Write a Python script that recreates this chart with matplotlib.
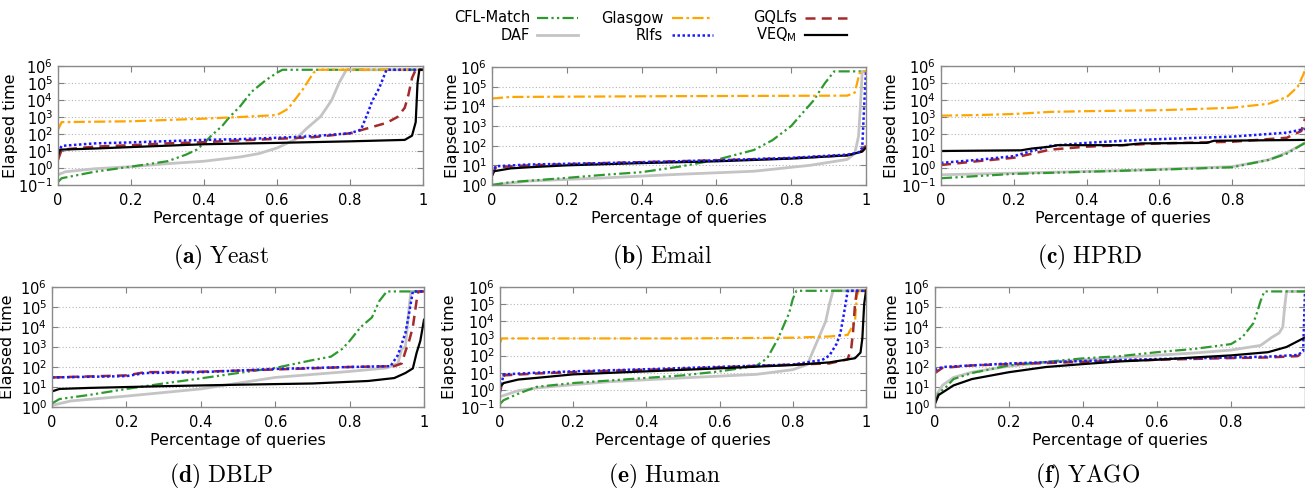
import numpy as np
import matplotlib
matplotlib.use('Agg')
import matplotlib.pyplot as plt
from matplotlib.lines import Line2D
from matplotlib.ticker import NullLocator, LogFormatterSciNotation

plt.rcParams['font.family'] = 'DejaVu Sans'

TIMEOUT = 6e5

# (x = fraction of queries, y = elapsed time)
# --- Yeast
yeast_cfl = [(0, 0.15), (0.01, 0.25), (0.1, 0.6), (0.2, 1.2), (0.3, 2.5), (0.35, 6), (0.38, 12),
             (0.4, 28), (0.42, 80), (0.45, 300), (0.47, 1000), (0.5, 4500), (0.53, 3e4),
             (0.57, 1.5e5), (0.6, 4e5), (0.615, TIMEOUT), (1.0, TIMEOUT)]
yeast_daf = [(0, 0.4), (0.02, 0.6), (0.1, 0.9), (0.2, 1.2), (0.3, 1.8), (0.4, 2.5), (0.5, 4.5),
             (0.55, 7), (0.6, 15), (0.65, 48), (0.68, 200), (0.72, 1100), (0.75, 1e4),
             (0.77, 1e5), (0.79, TIMEOUT), (1.0, TIMEOUT)]
yeast_glasgow = [(0, 180), (0.01, 500), (0.2, 560), (0.4, 800), (0.5, 1000), (0.6, 1300),
                 (0.63, 3000), (0.65, 1.1e4), (0.67, 4e4), (0.7, 4e5), (0.71, TIMEOUT), (1.0, TIMEOUT)]
yeast_rifs = [(0, 8), (0.01, 20), (0.1, 28), (0.2, 32), (0.3, 38), (0.4, 45), (0.5, 50), (0.6, 60),
              (0.7, 75), (0.8, 110), (0.83, 180), (0.85, 2000), (0.86, 8000), (0.88, 5e4),
              (0.9, TIMEOUT), (1.0, TIMEOUT)]
yeast_gqlfs = [(0, 3), (0.01, 12), (0.1, 18), (0.2, 22), (0.3, 28), (0.4, 33), (0.5, 42), (0.6, 52),
               (0.7, 65), (0.8, 110), (0.9, 450), (0.93, 1000), (0.95, 3500), (0.96, 2e4),
               (0.97, 2e5), (0.98, TIMEOUT), (1.0, TIMEOUT)]
yeast_veq = [(0, 5), (0.005, 12), (0.1, 14), (0.2, 17), (0.4, 25), (0.6, 30), (0.8, 37), (0.95, 45),
             (0.97, 80), (0.98, 500), (0.985, 1e5), (0.99, TIMEOUT), (1.0, TIMEOUT)]

# --- Email
email_cfl = [(0, 1.0), (0.05, 1.4), (0.2, 2.3), (0.3, 3.3), (0.4, 4.5), (0.5, 8.5), (0.6, 19),
             (0.7, 60), (0.75, 190), (0.8, 1000), (0.83, 4500), (0.86, 2e4), (0.87, 4e4),
             (0.89, 1.5e5), (0.915, TIMEOUT), (0.99, TIMEOUT)]
email_daf = [(0, 1.0), (0.1, 1.6), (0.3, 2.3), (0.5, 3.5), (0.7, 5), (0.85, 10), (0.95, 20),
             (0.97, 40), (0.98, 300), (0.985, 1e4), (0.99, TIMEOUT), (1.0, TIMEOUT)]
email_glasgow = [(0, 2.5e4), (0.05, 3e4), (0.5, 3.3e4), (0.95, 3.5e4), (0.97, 5e4), (0.98, 3e5),
                 (0.985, TIMEOUT), (1.0, TIMEOUT)]
email_rifs = [(0, 4), (0.01, 9), (0.1, 11), (0.3, 13), (0.6, 18), (0.8, 24), (0.95, 35), (0.98, 45),
              (0.99, 80), (0.995, 1e4), (1.0, TIMEOUT)]
email_gqlfs = [(0, 3), (0.01, 8), (0.1, 10), (0.3, 13), (0.6, 18), (0.8, 23), (0.95, 33), (0.98, 42),
               (0.99, 60), (1.0, 100)]
email_veq = [(0, 3), (0.005, 5), (0.05, 7), (0.1, 8), (0.2, 10), (0.4, 13), (0.6, 16), (0.8, 22),
             (0.95, 32), (0.99, 50), (1.0, 80)]

# --- HPRD
hprd_cfl = [(0, 0.25), (0.2, 0.45), (0.4, 0.6), (0.6, 0.8), (0.8, 1.1), (0.9, 3), (0.95, 7), (1.0, 30)]
hprd_daf = [(0, 0.4), (0.2, 0.5), (0.5, 0.7), (0.8, 1.2), (0.9, 3), (0.95, 8), (1.0, 30)]
hprd_glasgow = [(0, 1200), (0.1, 1300), (0.2, 1500), (0.3, 2000), (0.4, 2200), (0.6, 2500),
                (0.8, 3500), (0.9, 6000), (0.95, 1.5e4), (0.98, 6e4), (0.995, 3e5), (1.0, TIMEOUT)]
hprd_rifs = [(0, 2), (0.1, 3), (0.2, 5), (0.25, 10), (0.3, 20), (0.4, 30), (0.5, 40), (0.6, 50),
             (0.8, 70), (0.95, 120), (1.0, 200)]
hprd_gqlfs = [(0, 1.5), (0.1, 2.5), (0.2, 4), (0.3, 12), (0.4, 18), (0.5, 22), (0.6, 28),
              (0.8, 35), (0.95, 60), (0.99, 150), (1.0, 800)]
hprd_veq = [(0, 10), (0.22, 11), (0.25, 14), (0.3, 18), (0.32, 22), (0.5, 22), (0.55, 28),
            (0.73, 30), (0.75, 40), (1.0, 45)]

# --- DBLP
dblp_cfl = [(0, 1.5), (0.02, 2.5), (0.1, 4), (0.2, 8), (0.3, 15), (0.4, 27), (0.5, 50), (0.6, 90),
            (0.7, 220), (0.75, 330), (0.78, 800), (0.8, 2000), (0.83, 1e4), (0.86, 3e4),
            (0.88, 2e5), (0.9, TIMEOUT), (1.0, TIMEOUT)]
dblp_daf = [(0, 1.2), (0.05, 2), (0.2, 3.5), (0.4, 8), (0.6, 30), (0.8, 60), (0.9, 90), (0.93, 150),
            (0.94, 800), (0.95, 1000), (0.96, 1e5), (0.965, TIMEOUT), (1.0, TIMEOUT)]
dblp_rifs = [(0, 30), (0.2, 35), (0.25, 50), (0.4, 55), (0.6, 80), (0.8, 100), (0.91, 110),
             (0.93, 400), (0.95, 5000), (0.96, 5e4), (0.97, TIMEOUT), (1.0, TIMEOUT)]
dblp_gqlfs = [(0, 30), (0.2, 38), (0.25, 55), (0.4, 58), (0.6, 75), (0.8, 100), (0.92, 110),
              (0.94, 150), (0.95, 600), (0.96, 2000), (0.97, 1e4), (0.98, 2e5), (0.985, TIMEOUT),
              (1.0, TIMEOUT)]
dblp_veq = [(0, 6), (0.02, 8), (0.1, 9), (0.3, 11), (0.5, 13), (0.7, 15), (0.85, 20), (0.92, 28),
            (0.95, 50), (0.97, 85), (0.98, 500), (0.99, 2000), (1.0, 2.3e4)]

# --- Human
human_cfl = [(0, 0.15), (0.01, 0.25), (0.05, 0.6), (0.1, 1.5), (0.2, 2.5), (0.3, 3.5), (0.4, 5),
             (0.5, 7), (0.6, 12), (0.7, 25), (0.73, 70), (0.76, 1000), (0.78, 1e4), (0.79, 3e4),
             (0.8, 2e5), (0.81, TIMEOUT), (1.0, TIMEOUT)]
human_daf = [(0, 0.4), (0.05, 0.9), (0.1, 1.3), (0.2, 2), (0.3, 3), (0.5, 5), (0.7, 8), (0.8, 15),
             (0.84, 30), (0.85, 100), (0.87, 1000), (0.89, 1e4), (0.9, 1e5), (0.91, TIMEOUT),
             (1.0, TIMEOUT)]
human_glasgow = [(0, 550), (0.005, 1000), (0.5, 1000), (0.8, 1100), (0.9, 1300), (0.95, 1600),
                 (0.97, 1e4), (0.975, 3e5), (0.98, TIMEOUT), (1.0, TIMEOUT)]
human_rifs = [(0, 1), (0.01, 8), (0.1, 10), (0.2, 12), (0.4, 16), (0.6, 22), (0.8, 30), (0.88, 55),
              (0.9, 100), (0.92, 500), (0.93, 2000), (0.94, 3e4), (0.95, TIMEOUT), (1.0, TIMEOUT)]
human_gqlfs = [(0, 0.7), (0.01, 7), (0.1, 9), (0.3, 13), (0.5, 17), (0.7, 25), (0.9, 35), (0.95, 60),
               (0.96, 300), (0.965, 3000), (0.97, 1e5), (0.975, TIMEOUT), (1.0, TIMEOUT)]
human_veq = [(0, 1.5), (0.01, 2.5), (0.05, 4), (0.1, 5), (0.2, 8), (0.4, 12), (0.6, 18), (0.8, 28),
             (0.9, 40), (0.97, 70), (0.985, 150), (0.99, 1000), (0.995, 1e5), (1.0, TIMEOUT)]

# --- YAGO
yago_cfl = [(0, 1.5), (0.01, 5), (0.03, 10), (0.05, 25), (0.1, 50), (0.2, 120), (0.3, 180),
            (0.4, 270), (0.5, 350), (0.6, 550), (0.7, 800), (0.8, 1400), (0.83, 3000),
            (0.86, 1.5e4), (0.87, 5e4), (0.88, 2e5), (0.89, TIMEOUT), (1.0, TIMEOUT)]
yago_daf = [(0, 3), (0.02, 12), (0.05, 30), (0.1, 55), (0.2, 110), (0.3, 170), (0.5, 300),
            (0.7, 500), (0.8, 700), (0.88, 1200), (0.91, 3000), (0.93, 5000), (0.94, 1e4),
            (0.945, 1e5), (0.95, TIMEOUT), (1.0, TIMEOUT)]
yago_rifs = [(0, 70), (0.02, 100), (0.1, 120), (0.2, 150), (0.4, 200), (0.6, 250), (0.8, 300),
             (0.9, 330), (0.98, 400), (0.995, 600), (1.0, TIMEOUT)]
yago_gqlfs = [(0, 50), (0.02, 90), (0.1, 120), (0.2, 140), (0.4, 180), (0.6, 230), (0.8, 280),
              (0.9, 300), (0.98, 350), (1.0, 600)]
yago_veq = [(0, 1.5), (0.01, 4), (0.05, 12), (0.1, 25), (0.2, 55), (0.3, 100), (0.4, 140),
            (0.5, 190), (0.6, 230), (0.7, 300), (0.8, 380), (0.9, 550), (0.95, 1000), (1.0, 3000)]

styles = {
    'CFL-Match': dict(color='#2e9a2e', ls=(0, (5, 1.5, 1, 1.5, 1, 1.5)), lw=1.6),
    'DAF': dict(color='#c4c4c4', ls='-', lw=2.0),
    'Glasgow': dict(color='#ffa500', ls=(0, (5, 1.5, 1.2, 1.5)), lw=1.6),
    'RIfs': dict(color='#1a1aff', ls=(0, (1, 1)), lw=1.8),
    'GQLfs': dict(color='#a52a2a', ls=(0, (4, 2.5)), lw=1.8),
    'VEQM': dict(color='black', ls='-', lw=1.6),
}

panels = [
    ('(a)', 'Yeast', [58, 66, 423, 185], -1, -0.11,
     {'DAF': yeast_daf, 'CFL-Match': yeast_cfl, 'Glasgow': yeast_glasgow,
      'GQLfs': yeast_gqlfs, 'RIfs': yeast_rifs, 'VEQM': yeast_veq}),
    ('(b)', 'Email', [492, 67, 866, 185], 0, -0.085,
     {'DAF': email_daf, 'CFL-Match': email_cfl, 'Glasgow': email_glasgow,
      'GQLfs': email_gqlfs, 'VEQM': email_veq, 'RIfs': email_rifs}),
    ('(c)', 'HPRD', [941, 66, 1305, 185], -1, -0.115,
     {'DAF': hprd_daf, 'CFL-Match': hprd_cfl, 'Glasgow': hprd_glasgow,
      'GQLfs': hprd_gqlfs, 'RIfs': hprd_rifs, 'VEQM': hprd_veq}),
    ('(d)', 'DBLP', [52, 287, 424, 407], 0, -0.1,
     {'DAF': dblp_daf, 'CFL-Match': dblp_cfl, 'GQLfs': dblp_gqlfs,
      'RIfs': dblp_rifs, 'VEQM': dblp_veq}),
    ('(e)', 'Human', [500, 287, 866, 407], -1, -0.117,
     {'DAF': human_daf, 'CFL-Match': human_cfl, 'Glasgow': human_glasgow,
      'GQLfs': human_gqlfs, 'RIfs': human_rifs, 'VEQM': human_veq}),
    ('(f)', 'YAGO', [935, 287, 1305, 407], 0, -0.094,
     {'DAF': yago_daf, 'CFL-Match': yago_cfl, 'GQLfs': yago_gqlfs,
      'RIfs': yago_rifs, 'VEQM': yago_veq}),
]
caption_x = [221, 662, 1090, 221, 665, 1088]

W, H = 1305, 488
fig = plt.figure(figsize=(W / 100, H / 100), dpi=100)

for i, (tag, name, (x0, y0, x1, y1), ymin_exp, ylab_x, series) in enumerate(panels):
    ax = fig.add_axes([x0 / W, 1 - y1 / H, (x1 - x0) / W, (y1 - y0) / H])
    for key, pts in series.items():
        pts = np.array(pts)
        ax.plot(pts[:, 0], pts[:, 1], **styles[key])
    ax.set_yscale('log')
    ax.set_xlim(0, 1)
    ax.set_ylim(10.0 ** ymin_exp, 1e6)
    ax.set_yticks([10.0 ** k for k in range(ymin_exp, 7)])
    ax.yaxis.set_major_formatter(LogFormatterSciNotation())
    ax.yaxis.set_minor_locator(NullLocator())
    ax.set_xticks([0, 0.2, 0.4, 0.6, 0.8, 1])
    if x1 >= W:
        ax.set_xticklabels(['0', '0.2', '0.4', '0.6', '0.8', ''])
    else:
        ax.set_xticklabels(['0', '0.2', '0.4', '0.6', '0.8', '1'])
    ax.grid(axis='y', which='major', color='#b5b5b5', ls=(0, (1, 2)), lw=0.8)
    ax.tick_params(which='both', direction='in', top=True, right=True, length=4,
                   color='#808080', labelsize=10.5)
    ax.tick_params(axis='x', pad=6)
    for sp in ax.spines.values():
        sp.set_color('#8a8a8a')
        sp.set_linewidth(1.0)
    ax.set_xlabel('Percentage of queries', fontsize=11.5, labelpad=2)
    ax.set_ylabel('Elapsed time', fontsize=11.5)
    ax.yaxis.set_label_coords(ylab_x, 0.5)
    cy = 257 if y0 < 200 else 476
    fig.text(caption_x[i] / W, 1 - cy / H, r'$\mathbf{' + tag + r'}\ \mathrm{' + name + '}$',
             ha='center', va='center', fontsize=17, math_fontfamily='cm')

# legend drawn in gnuplot layout: text right-aligned, sample to its right
legend_cols = [(530, 537, 578, ['CFL-Match', 'DAF']),
               (663, 672, 713, ['Glasgow', 'RIfs']),
               (797, 805, 847, ['GQLfs', 'VEQM'])]
labels = {'VEQM': r'VEQ$_\mathrm{M}$'}
for tx, lx0, lx1, names in legend_cols:
    for row, key in enumerate(names):
        yy = 1 - (18 + 17 * row) / H
        fig.text(tx / W, yy, labels.get(key, key), ha='right', va='center', fontsize=10.5)
        fig.add_artist(Line2D([lx0 / W, lx1 / W], [yy, yy], transform=fig.transFigure,
                              **styles[key]))

fig.savefig('out.png', dpi=100)
